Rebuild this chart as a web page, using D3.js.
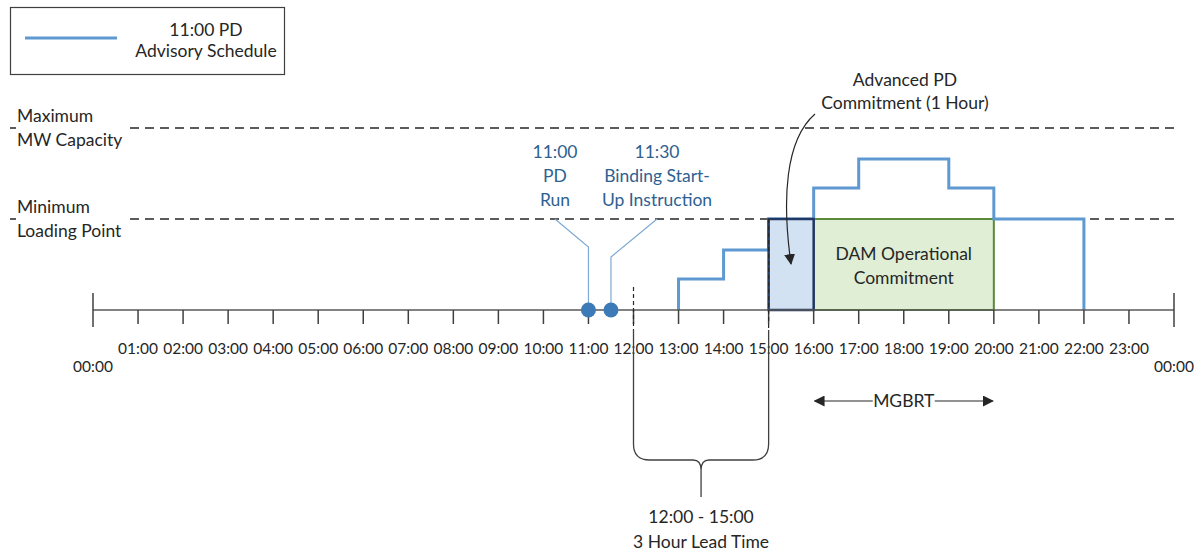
<!DOCTYPE html>
<head>
<meta charset="utf-8">
<script src="https://cdnjs.cloudflare.com/ajax/libs/d3/7.8.5/d3.min.js"></script>
<style>
  html, body { margin: 0; padding: 0; background: #fff; }
  svg { display: block; }
  text { font-family: Lato, "Open Sans", sans-serif; fill: #262626; }
</style>
</head>
<body>
<svg id="chart" width="1201" height="552"></svg>
<script>
// hours of the day on the axis
var tickHours = [0,1,2,3,4,5,6,7,8,9,10,11,12,13,14,15,16,17,18,19,20,21,22,23,24];
var tickLabels = ["00:00","01:00","02:00","03:00","04:00","05:00","06:00","07:00","08:00","09:00","10:00","11:00",
                  "12:00","13:00","14:00","15:00","16:00","17:00","18:00","19:00","20:00","21:00","22:00","23:00","00:00"];

// 11:00 PD advisory schedule (step changes, MW as share of max)
var scheduleHours = [13, 14, 15, 16, 17, 19, 20, 22];
var scheduleMW    = [17, 33, 50, 67, 83, 67, 50, 0];

var maxCapacity = 100, minLoading = 50;
var advancedPD = [15, 16];
var damCommit = [16, 20];
var eventHours = [11, 11.5];
var leadTime = [12, 15];
var mgbrt = [16, 20];

var svg = d3.select("#chart");
var x = d3.scaleLinear().domain([0, 24]).range([93, 1174]);
var y = d3.scaleLinear().domain([0, 100]).range([310, 128]);

var blue = "#5f99d1", navy = "#203864", ink = "#262626";
var fs = 17.5;

svg.append("defs").append("marker")
  .attr("id", "arr").attr("viewBox", "0 0 10 10").attr("refX", 9).attr("refY", 5)
  .attr("markerWidth", 11).attr("markerHeight", 11).attr("markerUnits", "userSpaceOnUse")
  .attr("orient", "auto-start-reverse")
  .append("path").attr("d", "M0,0L10,5L0,10Z").attr("fill", ink);

// dashed reference levels
[maxCapacity, minLoading].forEach(function (v) {
  svg.append("line").attr("x1", 10).attr("x2", x(24)).attr("y1", y(v)).attr("y2", y(v))
    .attr("stroke", ink).attr("stroke-width", 1.5).attr("stroke-dasharray", "9,6");
});
var lvl = [["Maximum", "MW Capacity", maxCapacity], ["Minimum", "Loading Point", minLoading]];
lvl.forEach(function (d) {
  var g = svg.append("g");
  g.append("rect").attr("x", 16).attr("y", y(d[2]) - 24).attr("width", 113).attr("height", 48).attr("fill", "#fff");
  g.append("text").attr("x", 17).attr("y", y(d[2]) - 6).attr("font-size", fs).text(d[0]);
  g.append("text").attr("x", 17).attr("y", y(d[2]) + 18).attr("font-size", fs).text(d[1]);
});

// commitment boxes
svg.append("rect").attr("x", x(damCommit[0])).attr("y", y(minLoading))
  .attr("width", x(damCommit[1]) - x(damCommit[0])).attr("height", y(0) - y(minLoading))
  .attr("fill", "#dfeed5").attr("stroke", "#5a8a3a").attr("stroke-width", 2);

// schedule
var pts = [[scheduleHours[0], 0]].concat(scheduleHours.map(function (h, i) { return [h, scheduleMW[i]]; }));
svg.append("path").datum(pts)
  .attr("d", d3.line().x(function (d) { return x(d[0]); }).y(function (d) { return y(d[1]); }).curve(d3.curveStepAfter))
  .attr("fill", "none").attr("stroke", blue).attr("stroke-width", 3);

svg.append("rect").attr("x", x(advancedPD[0])).attr("y", y(minLoading))
  .attr("width", x(advancedPD[1]) - x(advancedPD[0])).attr("height", y(0) - y(minLoading))
  .attr("fill", "#d3e2f3").attr("stroke", navy).attr("stroke-width", 2.5);

svg.append("text").attr("x", x(18)).attr("y", y(minLoading) + 41).attr("text-anchor", "middle")
  .attr("font-size", fs).text("DAM Operational");
svg.append("text").attr("x", x(18)).attr("y", y(minLoading) + 65).attr("text-anchor", "middle")
  .attr("font-size", fs).text("Commitment");

// axis
svg.append("line").attr("x1", x(0)).attr("x2", x(24)).attr("y1", y(0)).attr("y2", y(0))
  .attr("stroke", "#595959").attr("stroke-width", 1.5);
svg.selectAll(".tk").data(tickHours).enter().append("line")
  .attr("x1", function (d) { return x(d); }).attr("x2", function (d) { return x(d); })
  .attr("y1", function (d) { return d % 24 === 0 ? y(0) - 17 : y(0); })
  .attr("y2", function (d) { return d % 24 === 0 ? y(0) + 17 : y(0) + 14; })
  .attr("stroke", "#404040").attr("stroke-width", 1.5);
svg.selectAll(".tl").data(tickHours).enter().append("text")
  .attr("x", function (d) { return x(d); })
  .attr("y", function (d) { return d % 24 === 0 ? 372 : 354; })
  .attr("text-anchor", "middle").attr("font-size", 15.5)
  .text(function (d, i) { return tickLabels[i]; });

// lead time markers and brace
leadTime.forEach(function (h, i) {
  svg.append("line").attr("x1", x(h)).attr("x2", x(h)).attr("y1", i === 0 ? 287 : y(minLoading)).attr("y2", 330)
    .attr("stroke", ink).attr("stroke-width", 1.2).attr("stroke-dasharray", "4,3");
});
var bl = x(leadTime[0]), br = x(leadTime[1]), bm = (bl + br) / 2, by = 460, r = 16;
svg.append("path")
  .attr("d", "M" + bl + ",330 V" + (by - r) + " Q" + bl + "," + by + " " + (bl + r) + "," + by +
    " H" + (bm - 8) + " Q" + bm + "," + by + " " + bm + "," + (by + 10) +
    " Q" + bm + "," + by + " " + (bm + 8) + "," + by +
    " H" + (br - r) + " Q" + br + "," + by + " " + br + "," + (by - r) + " V330")
  .attr("fill", "none").attr("stroke", "#404040").attr("stroke-width", 1.3);
svg.append("line").attr("x1", bm).attr("x2", bm).attr("y1", by + 10).attr("y2", 497)
  .attr("stroke", "#404040").attr("stroke-width", 1.3);
svg.append("text").attr("x", bm).attr("y", 523).attr("text-anchor", "middle").attr("font-size", fs).text("12:00 - 15:00");
svg.append("text").attr("x", bm).attr("y", 548).attr("text-anchor", "middle").attr("font-size", fs).text("3 Hour Lead Time");

// MGBRT
var my = 401;
svg.append("line").attr("x1", x(mgbrt[0]) + 1).attr("x2", x(18) - 31).attr("y1", my).attr("y2", my)
  .attr("stroke", ink).attr("stroke-width", 1.2).attr("marker-start", "url(#arr)");
svg.append("line").attr("x1", x(18) + 31).attr("x2", x(mgbrt[1]) - 1).attr("y1", my).attr("y2", my)
  .attr("stroke", ink).attr("stroke-width", 1.2).attr("marker-end", "url(#arr)");
svg.append("text").attr("x", x(18)).attr("y", my + 6).attr("text-anchor", "middle").attr("font-size", fs).text("MGBRT");

// PD run / binding start-up events
var evLabels = [["11:00", "PD", "Run"], ["11:30", "Binding Start-", "Up Instruction"]];
var evLabelX = [555, 657], evBend = [247, 257];
eventHours.forEach(function (h, i) {
  svg.append("path")
    .attr("d", "M" + x(h) + "," + y(0) + " V" + evBend[i] + " L" + evLabelX[i] + "," + y(minLoading))
    .attr("fill", "none").attr("stroke", "#7fa9d3").attr("stroke-width", 1.2);
  evLabels[i].forEach(function (t, j) {
    svg.append("text").attr("x", evLabelX[i]).attr("y", 158 + j * 24).attr("text-anchor", "middle")
      .attr("font-size", fs).style("fill", "#2e6190").text(t);
  });
});
svg.selectAll(".dot").data(eventHours).enter().append("circle")
  .attr("cx", function (d) { return x(d); }).attr("cy", y(0)).attr("r", 7.5).attr("fill", "#3d7ab8");

// advanced PD commitment annotation
svg.append("text").attr("x", 905).attr("y", 86).attr("text-anchor", "middle").attr("font-size", fs).text("Advanced PD");
svg.append("text").attr("x", 905).attr("y", 109).attr("text-anchor", "middle").attr("font-size", fs).text("Commitment (1 Hour)");
svg.append("path").attr("d", "M815,114 C785,140 782,200 791,264")
  .attr("fill", "none").attr("stroke", ink).attr("stroke-width", 1.2).attr("marker-end", "url(#arr)");

// legend
svg.append("rect").attr("x", 10.5).attr("y", 7.5).attr("width", 274).attr("height", 67)
  .attr("fill", "#fff").attr("stroke", "#404040").attr("stroke-width", 1.2);
svg.append("line").attr("x1", 25).attr("x2", 117).attr("y1", 38).attr("y2", 38).attr("stroke", blue).attr("stroke-width", 3);
svg.append("text").attr("x", 206).attr("y", 36).attr("text-anchor", "middle").attr("font-size", fs).text("11:00 PD");
svg.append("text").attr("x", 206).attr("y", 57).attr("text-anchor", "middle").attr("font-size", fs).text("Advisory Schedule");
</script>
</body>
</html>
